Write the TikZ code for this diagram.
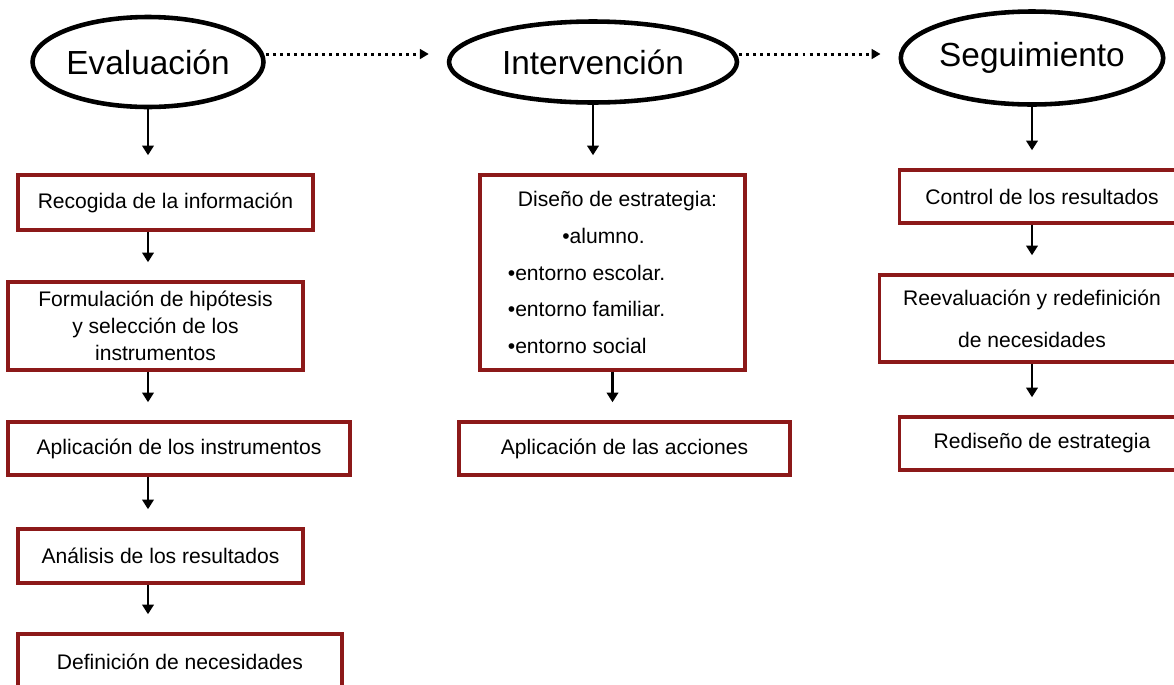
\documentclass[tikz,border=0pt]{standalone}
\usepackage{fontspec}
\setmainfont{Liberation Sans}
\usetikzlibrary{arrows.meta, shapes.geometric}
\definecolor{boxred}{RGB}{140,25,25}
\begin{document}
\begin{tikzpicture}[x = 0.02cm, y = -0.02cm]
  \tikzstyle{stage} = [ellipse, draw, line width = 2.6pt, inner sep = 0pt, font = \fontsize{19}{23}\selectfont]
  \tikzstyle{task} = [rectangle, draw = boxred, line width = 2pt, align = center, inner sep = 0pt, font = \fontsize{12}{15}\selectfont]
  \tikzstyle{arrow} = [-{Triangle[length = 5.5pt, width = 6.5pt]}, line width = 1.4pt, shorten > = 0.36cm]
  \tikzstyle{dotarrow} = [-{Triangle[length = 5pt, width = 5.5pt]}, line width = 1.7pt, dash pattern = on 1.7pt off 2.3pt, shorten > = 0.36cm]

  \useasboundingbox (0,0) rectangle (1174,684);
  \clip (0,0) rectangle (1174,684);

  \node [stage, minimum width = 4.44cm, minimum height = 1.8cm] at (148,62) (eval) {Evaluación};
  \node [stage, minimum width = 5.76cm, minimum height = 1.62cm] at (593,62) (interv) {Intervención};
  \node [stage, minimum width = 5.2cm, minimum height = 1.86cm] at (1032,58) (seg) {Seguimiento};

  \node [task, minimum width = 5.9cm, minimum height = 1.1cm] at (165.5,202.5) (recogida) {Recogida de la información};
  \node [task, minimum width = 5.9cm, minimum height = 1.76cm, font = \fontsize{12}{15.3}\selectfont] at (155.5,326) (formulacion) {Formulación de hipótesis\\y selección de los\\instrumentos};
  \node [task, minimum width = 6.84cm, minimum height = 1.06cm] at (179,448.5) (aplic_instr) {Aplicación de los instrumentos};
  \node [task, minimum width = 5.7cm, minimum height = 1.08cm] at (160.5,556) (analisis) {Análisis de los resultados};
  \node [task, minimum width = 6.48cm, minimum height = 1.1cm] at (180,661.5) (definicion) {Definición de necesidades};

  \node [task, minimum width = 5.3cm, minimum height = 3.9cm, align = left, font = \fontsize{12}{21}\selectfont] at (612.5,272.5) (diseno) {\hspace*{5.7pt}Diseño de estrategia:\\\hspace*{31pt}•alumno.\\•entorno escolar.\\•entorno familiar.\\•entorno social};
  \node [task, minimum width = 6.62cm, minimum height = 1.06cm] at (624.5,448.5) (aplic_acc) {Aplicación de las acciones};

  \node [task, minimum width = 5.7cm, minimum height = 1.06cm] at (1042,196.5) (control) {Control de los resultados};
  \node [task, minimum width = 6.1cm, minimum height = 1.74cm, font = \fontsize{12}{24}\selectfont] at (1032,318.5) (reeval) {Reevaluación y redefinición\\de necesidades};
  \node [task, minimum width = 5.7cm, minimum height = 1.06cm] at (1042,443.5) (rediseno) {Rediseño de estrategia};

  \coordinate (eval_out) at ([yshift = 0.16cm]eval.east);
  \coordinate (interv_out) at ([yshift = 0.16cm]interv.east);

  \draw[dotarrow] (eval_out) to (eval_out -| interv.west);
  \draw[dotarrow] (interv_out) to (interv_out -| seg.west);

  \draw[arrow] (eval.south) to (eval.south |- recogida.north);
  \draw[arrow] (recogida.south -| eval.south) to (eval.south |- formulacion.north);
  \draw[arrow] (formulacion.south -| eval.south) to (eval.south |- aplic_instr.north);
  \draw[arrow] (aplic_instr.south -| eval.south) to (eval.south |- analisis.north);
  \draw[arrow] (analisis.south -| eval.south) to (eval.south |- definicion.north);

  \draw[arrow] (interv.south) to (interv.south |- diseno.north);
  \draw[arrow] (diseno.south) to (diseno.south |- aplic_acc.north);

  \draw[arrow] (seg.south) to (seg.south |- control.north);
  \draw[arrow] (control.south -| seg.south) to (seg.south |- reeval.north);
  \draw[arrow] (reeval.south -| seg.south) to (seg.south |- rediseno.north);
\end{tikzpicture}
\end{document}
